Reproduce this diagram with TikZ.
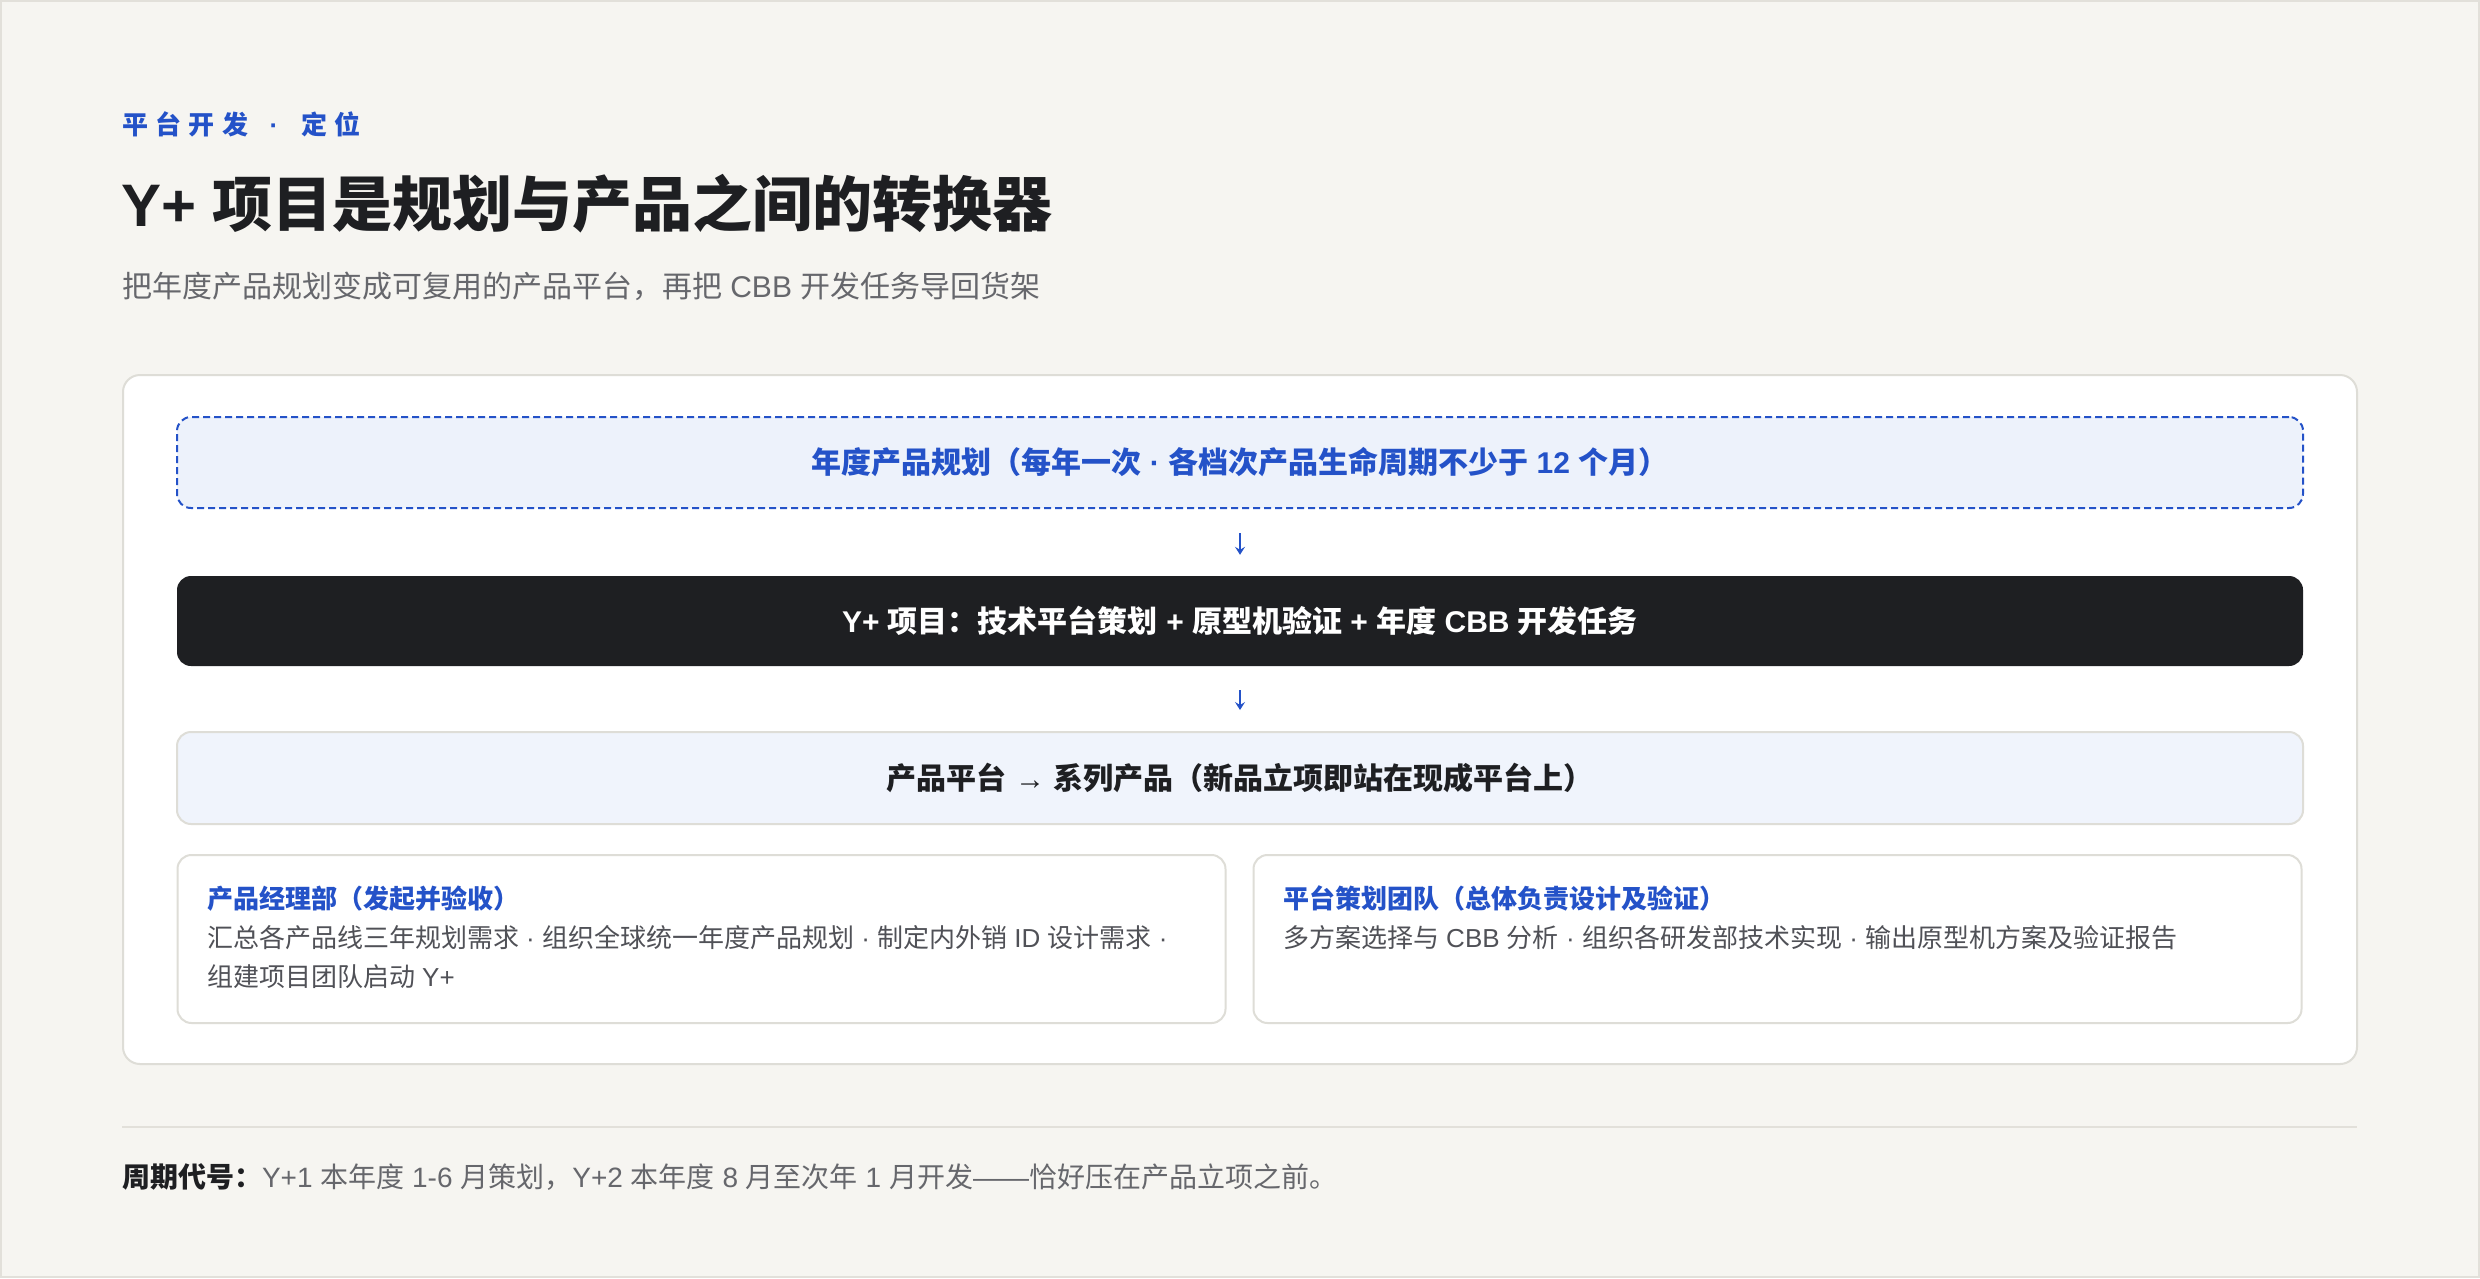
\documentclass[tikz,border=0pt]{standalone}
\usepackage{fontspec}
\setmainfont{Liberation Sans}
\newfontfamily\latf{Liberation Sans}
\newfontfamily\cjkf{Noto Sans CJK SC}
\usetikzlibrary{arrows.meta}
\XeTeXinterchartokenstate=1
\newXeTeXintercharclass\cjkcls
\newcount\cjkcnt
\def\cjkrange#1#2{\cjkcnt=#1\relax\loop\XeTeXcharclass\cjkcnt=\cjkcls\relax\advance\cjkcnt by 1\relax\ifnum\cjkcnt<#2\relax\repeat}
\cjkrange{"3000}{"3040}
\cjkrange{"4E00}{"A000}
\cjkrange{"FF00}{"FFF0}
\XeTeXinterchartoks 0 \cjkcls = {\cjkf}
\XeTeXinterchartoks 4095 \cjkcls = {\cjkf}
\XeTeXinterchartoks \cjkcls 0 = {\latf}
\XeTeXinterchartoks \cjkcls 4095 = {\latf}
\definecolor{bgc}{HTML}{F6F5F1}
\definecolor{edgec}{HTML}{E2E0DA}
\definecolor{cardedge}{HTML}{DEDDD7}
\definecolor{accent}{HTML}{2452C8}
\definecolor{planfill}{HTML}{EDF2FB}
\definecolor{platfill}{HTML}{F0F4FC}
\definecolor{darkc}{HTML}{1E1F22}
\definecolor{subc}{HTML}{66676C}
\definecolor{bodyc}{HTML}{505157}
\newcommand{\fsz}[1]{\fontsize{#1}{#1}\selectfont}
\tikzset{
  lbl/.style={anchor=base west, inner sep=0pt, outer sep=0pt},
  wide/.style={minimum width=2126pt, inner sep=0pt, rounded corners=14pt},
  planbox/.style={wide, minimum height=91pt, fill=planfill, draw=accent, line width=2pt, dash pattern=on 7pt off 4pt, text=accent, font=\bfseries\fsz{30}},
  ybox/.style={wide, minimum height=90pt, fill=darkc, text=white, font=\bfseries\fsz{30}},
  platbox/.style={wide, minimum height=92pt, fill=platfill, draw=cardedge, line width=2pt, text=darkc, font=\bfseries\fsz{30}},
  rolecard/.style={minimum width=1048pt, minimum height=168pt, fill=white, draw=cardedge, line width=2pt, rounded corners=14pt, inner sep=0pt},
  panel/.style={minimum width=2234pt, minimum height=689pt, fill=white, draw=cardedge, line width=2pt, rounded corners=17pt, inner sep=0pt},
  flowarrow/.style={draw=accent, line width=2pt, -{Stealth[length=8pt,width=10pt,inset=3pt]}, shorten <=24pt, shorten >=21pt},
  roletitle/.style={lbl, text=accent, font=\bfseries\fsz{26}},
  rolebody/.style={lbl, text=bodyc, font=\fsz{26}},
}
\begin{document}
\begin{tikzpicture}[x=1pt, y=-1pt]
\useasboundingbox (0,0) rectangle (2480,1278);
\fill[bgc] (0,0) rectangle (2480,1278);
\draw[edgec, line width=2pt] (1,1) rectangle (2479,1277);
% header
\node[lbl, text=accent, font=\bfseries\fsz{26}] (kicker) at (122,134) {平\kern7.5pt 台\kern7.5pt 开\kern7.5pt 发\kern21pt ·\kern23pt 定\kern7.5pt 位};
\node[lbl, text=darkc, font=\bfseries\fsz{60}] (title) at (121,226) {Y+ 项目是规划与产品之间的转换器};
\node[lbl, text=subc, font=\fsz{30}] (subtitle) at (122,297) {把年度产品规划变成可复用的产品平台，再把 CBB 开发任务导回货架};
% panel
\node[panel] (card) at (1240,719.5) {};
\node[planbox] (plan) at (1240,462.5) {年度产品规划（每年一次 · 各档次产品生命周期不少于 12 个月）};
\node[ybox] (yplus) at (1240,621) {Y+ 项目：技术平台策划 + 原型机验证 + 年度 CBB 开发任务};
\node[platbox] (plat) at (1240,778) {产品平台 → 系列产品（新品立项即站在现成平台上）};
\draw[flowarrow] (plan) -- (yplus);
\draw[flowarrow] (yplus) -- (plat);
% role cards
\node[rolecard] (pm) at (701.5,939) {};
\node[rolecard] (team) at (1777.5,939) {};
\node[roletitle] (pmt) at (207,908) {产品经理部（发起并验收）};
\node[rolebody] (pmb1) at (207,947) {汇总各产品线三年规划需求 · 组织全球统一年度产品规划 · 制定内外销 ID 设计需求 ·};
\node[rolebody] (pmb2) at (207,986) {组建项目团队启动 Y+};
\node[roletitle] (teamt) at (1283,908) {平台策划团队（总体负责设计及验证）};
\node[rolebody] (teamb) at (1283,947) {多方案选择与 CBB 分析 · 组织各研发部技术实现 · 输出原型机方案及验证报告};
% footer
\draw[edgec, line width=2pt] (122,1127) -- (2357,1127);
\node[lbl, text=darkc, font=\bfseries\fsz{28}] (fk) at (122,1187) {周期代号：};
\node[lbl, text=subc, font=\fsz{28}] (fv) at (fk.base east) {Y+1 本年度 1-6 月策划，Y+2 本年度 8 月至次年 1 月开发——恰好压在产品立项之前。};
\end{tikzpicture}
\end{document}
